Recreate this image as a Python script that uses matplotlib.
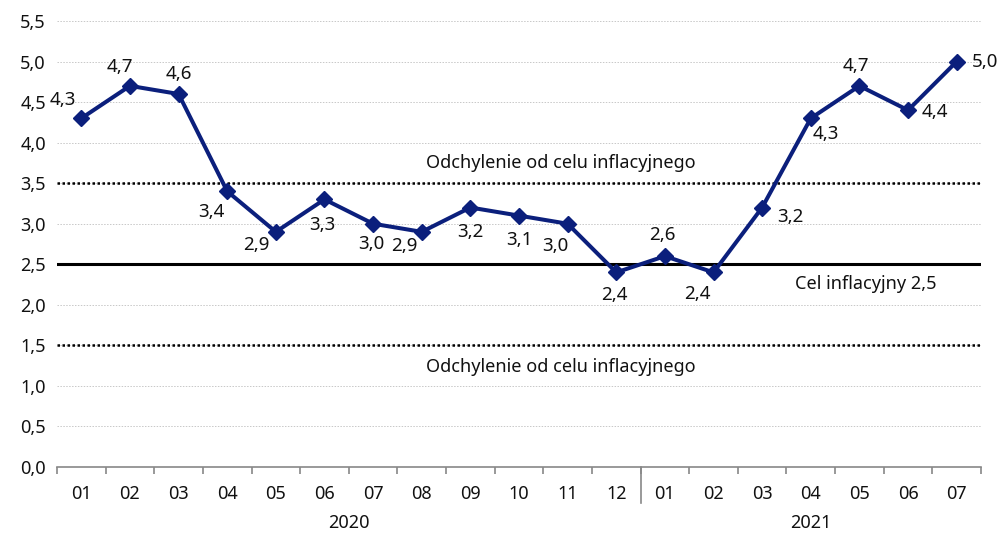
import matplotlib
matplotlib.use('Agg')
import matplotlib.pyplot as plt
import numpy as np
from matplotlib.ticker import FixedLocator, FuncFormatter

plt.rcParams['font.family'] = ['Noto Sans', 'DejaVu Sans']

# data
months = ['01', '02', '03', '04', '05', '06', '07', '08', '09', '10', '11', '12',
          '01', '02', '03', '04', '05', '06', '07']
years = ['2020', '2021']
year_len = [12, 7]
cpi = [4.3, 4.7, 4.6, 3.4, 2.9, 3.3, 3.0, 2.9, 3.2, 3.1, 3.0, 2.4,
       2.6, 2.4, 3.2, 4.3, 4.7, 4.4, 5.0]
target = 2.5
band_hi = 3.5
band_lo = 1.5

# label offsets in pixels (dx, dy up)
offs = [(-19, 18), (-10, 19), (0, 20), (-16, -21), (-20, -13), (-2, -26), (-2, -20),
        (-17, -14), (0, -24), (0, -24), (-12, -22), (-2, -23), (-3, 21), (-16, -22),
        (28, -9), (15, -16), (-4, 20), (27, -2), (28, 0)]

fig = plt.figure(figsize=(10, 5.33), dpi=100)
ax = fig.add_axes([0.057, 0.1238, 0.924, 0.8368])

x = np.arange(len(cpi))
navy = '#0b1f7c'

# light grid
for v in np.arange(0.5, 5.51, 0.5):
    ax.axhline(v, color='#c8c8c8', lw=0.7, ls=(0, (1.5, 1.5)), zorder=0)

ax.axhline(band_hi, color='black', lw=1.8, ls=(0, (1, 1)), zorder=1)
ax.axhline(band_lo, color='black', lw=1.8, ls=(0, (1, 1)), zorder=1)
ax.axhline(target, color='black', lw=2.2, zorder=1)

ax.plot(x, cpi, color=navy, lw=2.9, marker='D', ms=8.5, zorder=3)

for i, v in enumerate(cpi):
    dx, dy = offs[i]
    ax.annotate(f'{v:.1f}'.replace('.', ','), (x[i], v),
                xytext=(dx * 0.72, dy * 0.72), textcoords='offset points',
                ha='center', va='center', fontsize=13.5, color='#111111')

ax.text(9.85, 3.75, 'Odchylenie od celu inflacyjnego', ha='center', va='center', fontsize=13, color='#111111')
ax.text(9.85, 1.23, 'Odchylenie od celu inflacyjnego', ha='center', va='center', fontsize=13, color='#111111')
ax.text(16.13, 2.26, 'Cel inflacyjny 2,5', ha='center', va='center', fontsize=13, color='#111111')

ax.set_xlim(-0.5, len(cpi) - 0.5)
ax.set_ylim(0, 5.5)
ax.set_yticks(np.arange(0, 5.51, 0.5))
ax.yaxis.set_major_formatter(FuncFormatter(lambda v, p: f'{v:.1f}'.replace('.', ',')))
ax.tick_params(axis='y', length=0, pad=8, labelsize=13, labelcolor='#111111')

ax.set_xticks(x)
ax.set_xticklabels(months)
ax.xaxis.set_minor_locator(FixedLocator(np.arange(-0.5, len(cpi), 1.0)))
ax.tick_params(axis='x', which='major', length=0, pad=13, labelsize=13, labelcolor='#111111')
ax.tick_params(axis='x', which='minor', length=5, width=1.2, color='#888888')

for s in ['top', 'right', 'left']:
    ax.spines[s].set_visible(False)
ax.spines['bottom'].set_color('#888888')
ax.spines['bottom'].set_linewidth(1.2)

# year separator and labels
ax.plot([11.5, 11.5], [0, -0.081], transform=ax.get_xaxis_transform(),
        color='#888888', lw=1.2, clip_on=False)
start = 0
for yr, n in zip(years, year_len):
    ax.text(start + (n - 1) / 2, -0.125, yr, transform=ax.get_xaxis_transform(),
            ha='center', va='center', fontsize=13, color='#111111')
    start += n

fig.savefig('out.png', dpi=100)
